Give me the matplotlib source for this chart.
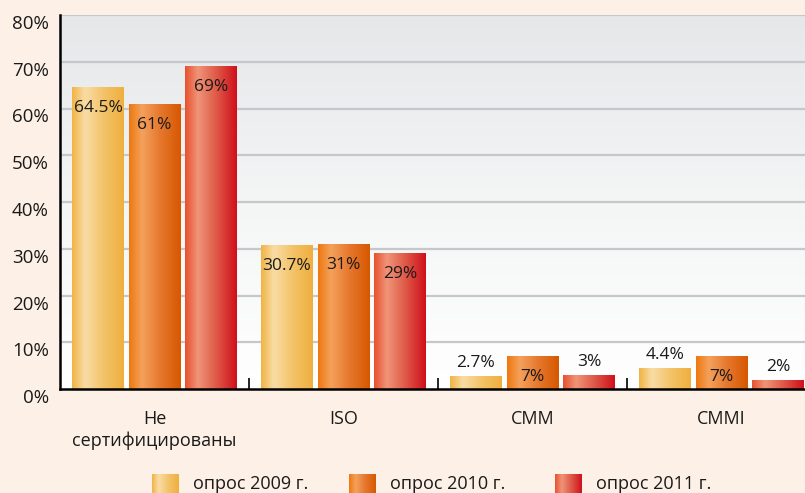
import numpy as np
import matplotlib
matplotlib.use("Agg")
import matplotlib.pyplot as plt
import matplotlib.transforms as mtransforms
from matplotlib.colors import LinearSegmentedColormap

categories = ["Не\nсертифицированы", "ISO", "CMM", "CMMI"]
series_names = ["опрос 2009 г.", "опрос 2010 г.", "опрос 2011 г."]
v2009 = [64.5, 30.7, 2.7, 4.4]
v2010 = [61, 31, 7, 7]
v2011 = [69, 29, 3, 2]
labels2009 = ["64.5%", "30.7%", "2.7%", "4.4%"]
labels2010 = ["61%", "31%", "7%", "7%"]
labels2011 = ["69%", "29%", "3%", "2%"]
yticks = [0, 10, 20, 30, 40, 50, 60, 70, 80]
ytick_labels = ["0%", "10%", "20%", "30%", "40%", "50%", "60%", "70%", "80%"]

series = [v2009, v2010, v2011]
series_labels = [labels2009, labels2010, labels2011]
grads = [
    ["#f0b443", "#f9dca6", "#f3c46a", "#efaf3e"],
    ["#ee780e", "#f4a15c", "#e6782e", "#d65800"],
    ["#e8502f", "#f09478", "#de5a48", "#d0101c"],
]
stops = [0.0, 0.25, 0.6, 1.0]

FONT = ["Open Sans", "DejaVu Sans"]
plt.rcParams["font.family"] = FONT

W, H = 805, 493
fig = plt.figure(figsize=(W / 100, H / 100), dpi=100)
bg = "#fdf0e6"
fig.patch.set_facecolor(bg)

x0, x1 = 60, 805
ytop, ybot = 15, 389
ax = fig.add_axes([x0 / W, (H - ybot) / H, (x1 - x0) / W, (ybot - ytop) / H])
ax.set_xlim(-0.5, -0.5 + (x1 - x0) / 189.0)
ax.set_ylim(0, 80)

# plot background gradient
bgcm = LinearSegmentedColormap.from_list("bg", ["#ffffff", "#f4f5f5", "#e6e7e9"])
grad_v = np.linspace(0, 1, 256).reshape(-1, 1)
ax.imshow(grad_v, cmap=bgcm, aspect="auto", extent=[0, 1, 0, 1],
          transform=ax.transAxes, origin="lower", zorder=0)

for y in yticks[1:]:
    ax.axhline(y, color="#c6c7ca", lw=1.6, zorder=1)

x = np.arange(len(categories))
pitch = 0.299
width = 0.275
grad_h = np.linspace(0, 1, 256).reshape(1, -1)
for i, (vals, labs) in enumerate(zip(series, series_labels)):
    cm = LinearSegmentedColormap.from_list("s%d" % i, list(zip(stops, grads[i])))
    bars = ax.bar(x + (i - 1) * pitch, vals, width, color=grads[i][1], zorder=2)
    for b, lab in zip(bars, labs):
        bx, by = b.get_x(), b.get_y()
        bw, bh = b.get_width(), b.get_height()
        im = ax.imshow(grad_h, cmap=cm, aspect="auto",
                       extent=[bx, bx + bw, by, by + bh], zorder=3)
        im.set_clip_path(b)
        v = b.get_height()
        if v >= 5:
            ax.annotate(lab, (bx + bw / 2, v), xytext=(0, -21),
                        textcoords="offset pixels", ha="center", va="center",
                        fontsize=12.5, color="#1a1a1a", zorder=5)
        else:
            ax.annotate(lab, (bx + bw / 2, v), xytext=(0, 13),
                        textcoords="offset pixels", ha="center", va="center",
                        fontsize=12.5, color="#1a1a1a", zorder=5)

ax.set_xlim(-0.5, -0.5 + (x1 - x0) / 189.0)
ax.set_ylim(0, 80)

for s in ["top", "right"]:
    ax.spines[s].set_visible(False)
for s in ["left", "bottom"]:
    ax.spines[s].set_color("black")
    ax.spines[s].set_linewidth(1.8)
    ax.spines[s].set_zorder(6)

ax.set_yticks(yticks)
ax.set_yticklabels(ytick_labels, fontsize=13.5, color="#1a1a1a")
ax.tick_params(axis="y", length=0, pad=8)
shift = mtransforms.ScaledTranslation(0, -7 / 100, fig.dpi_scale_trans)
for t in ax.yaxis.get_major_ticks():
    t.label1.set_transform(t.label1.get_transform() + shift)

ax.set_xticks(np.arange(len(categories) - 1) + 0.5)
ax.set_xticklabels([])
ax.tick_params(axis="x", which="major", direction="in", length=8, width=1.2, color="black")
ax.set_xticks(x, minor=True)
ax.set_xticklabels(categories, minor=True, fontsize=13, color="#1a1a1a", linespacing=1.25)
ax.tick_params(axis="x", which="minor", length=0, pad=15)

# legend (manual, figure pixel coordinates)
lax = fig.add_axes([0, 0, 1, 1])
lax.set_xlim(0, W)
lax.set_ylim(H, 0)
lax.axis("off")
lax.set_zorder(10)
leg_x = [152, 349, 555]
for i, name in enumerate(series_names):
    cm = LinearSegmentedColormap.from_list("l%d" % i, list(zip(stops, grads[i])))
    lax.imshow(grad_h, cmap=cm, aspect="auto",
               extent=[leg_x[i], leg_x[i] + 27, 500, 474], zorder=2)
    lax.text(leg_x[i] + 41, 484, name, fontsize=13, color="#1a1a1a",
             ha="left", va="center")
lax.set_xlim(0, W)
lax.set_ylim(H, 0)

fig.savefig("out.png", dpi=100, facecolor=bg)
